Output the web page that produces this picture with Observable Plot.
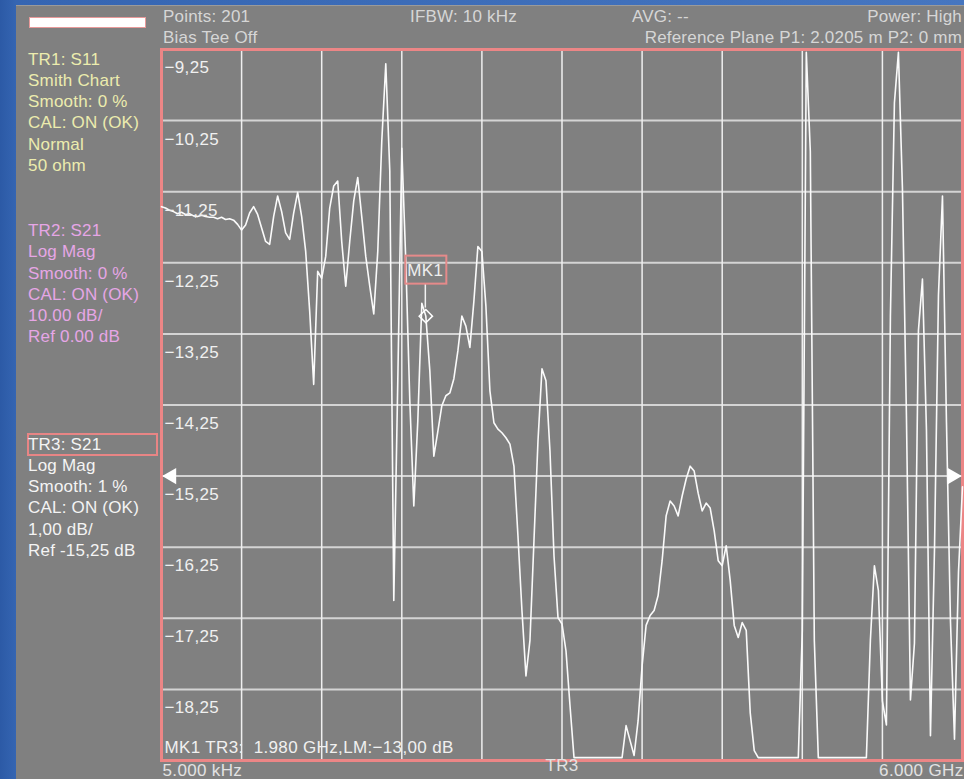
<!DOCTYPE html>
<html lang="en">
<head>
<meta charset="utf-8">
<title>TR3 S21 Log Mag</title>
<script src="https://cdn.jsdelivr.net/npm/d3@7"></script>
<script src="https://cdn.jsdelivr.net/npm/@observablehq/plot@0.6"></script>
<style>
  html, body { margin: 0; padding: 0; background: #3563ad; }
  #screen { position: relative; width: 964px; height: 779px; overflow: hidden;
            background: linear-gradient(90deg, #2c5aa6 0px, #3565b2 16px, #4676c0 100%); }
  #panel { position: absolute; left: 16px; top: 5px; right: 0; bottom: 0; background: #808080;
           border-top: 1px solid #9a9a9a; }
  .txt { position: absolute; font-family: "Liberation Sans", Arial, sans-serif; font-size: 17px;
         line-height: 21.3px; white-space: pre; letter-spacing: 0.2px; }
  #bar { position: absolute; left: 29px; top: 17px; width: 117px; height: 11px; box-sizing: border-box;
         background: #ffffff; border: 1.5px solid #e89a9a; }
  #active { position: absolute; left: 27px; top: 433px; width: 131px; height: 23px; box-sizing: border-box;
            border: 2px solid #e88585; }
  #chart { position: absolute; left: 0; top: 0; }
  #chart text { letter-spacing: 0.35px; }
</style>
</head>
<body>
<div id="screen">
  <div id="panel"></div>
  <div id="bar"></div>
  <div id="active"></div>
  <div id="chart"></div>
</div>
<script>
// Sweep settings
const startGHz = 0.000005;
const stopGHz = 6;
const sweepPoints = 201;

// TR3: S21 log magnitude (dB), one value per sweep point
const s21 = [
  -11.46, -11.48, -11.51, -11.53, -11.56, -11.54, -11.57, -11.56, -11.59, -11.60,
  -11.58, -11.60, -11.61, -11.61, -11.63, -11.61, -11.64, -11.63, -11.65, -11.71,
  -11.79, -11.72, -11.55, -11.46, -11.57, -11.76, -11.95, -11.99, -11.60, -11.31,
  -11.53, -11.83, -11.92, -11.55, -11.26, -11.60, -12.09, -12.93, -13.96, -12.37,
  -12.47, -12.16, -11.48, -11.17, -11.10, -11.95, -12.58, -11.95, -11.38, -11.05,
  -11.60, -12.16, -12.58, -12.97, -12.09, -10.54, -9.45, -10.96, -17.00, -13.91,
  -10.64, -12.23, -14.19, -15.67, -14.47, -12.82, -13.00, -13.77, -14.97, -14.62,
  -14.26, -14.12, -14.08, -13.88, -13.49, -13.00, -13.14, -13.44, -12.79, -12.02,
  -12.09, -12.86, -14.05, -14.50, -14.59, -14.64, -14.71, -14.80, -15.11, -16.09,
  -17.14, -18.06, -17.56, -16.16, -14.76, -13.74, -13.91, -14.90, -16.37, -17.24,
  -17.33, -17.71, -18.48, -19.30, -19.62, -19.85, -19.90, -19.78, -19.95, -20.10,
  -19.88, -19.70, -19.84, -19.92, -19.66, -19.45, -18.76, -18.97, -19.18, -18.69,
  -17.92, -17.35, -17.21, -17.14, -16.93, -16.44, -15.81, -15.60, -15.67, -15.81,
  -15.53, -15.29, -15.11, -15.18, -15.49, -15.74, -15.63, -15.70, -16.02, -16.44,
  -16.51, -16.23, -16.72, -17.35, -17.52, -17.31, -17.42, -18.58, -19.11, -19.55,
  -19.80, -19.95, -20.05, -19.90, -19.75, -19.88, -20.00, -19.82, -19.70, -19.60,
  -17.42, -8.90, -10.68, -17.56, -19.60, -19.85, -20.02, -19.93, -19.78, -19.90,
  -20.05, -19.88, -19.72, -19.86, -19.95, -19.80, -19.58, -17.56, -16.51, -16.86,
  -18.41, -18.75, -13.00, -10.00, -9.20, -11.20, -14.40, -18.40, -17.60, -13.20,
  -12.48, -14.60, -18.90, -16.30, -12.70, -11.31, -14.50, -17.30, -18.95, -16.60,
  -15.40
];

// Vertical scale: 1 dB/div, reference -15.25 dB on the 6th division line
const refLevel = -15.25;
const yTicks = [-9.25, -10.25, -11.25, -12.25, -13.25, -14.25, -15.25, -16.25, -17.25, -18.25, -19.25];
const xGrid = [0.000005, 0.6, 1.2, 1.8, 2.4, 3.0, 3.6, 4.2, 4.8, 5.4, 6.0];

// Marker MK1 on TR3
const marker = { name: "MK1", trace: "TR3", f: 1.98, db: -13.00 };

// Status texts
const headerLeft = [{ text: "Points: 201", top: 5.5 }, { text: "Bias Tee Off", top: 26.5 }];
const headerMid = [{ text: "IFBW: 10 kHz", left: 410 }, { text: "AVG: --", left: 632 }];
const headerRight = [{ text: "Power: High", top: 5.5 }, { text: "Reference Plane P1: 2.0205 m P2: 0 mm", top: 26.5 }];
const tr1Info = ["TR1: S11", "Smith Chart", "Smooth: 0 %", "CAL: ON (OK)", "Normal", "50 ohm"];
const tr2Info = ["TR2: S21", "Log Mag", "Smooth: 0 %", "CAL: ON (OK)", "10.00 dB/", "Ref 0.00 dB"];
const tr3Info = ["TR3: S21", "Log Mag", "Smooth: 1 %", "CAL: ON (OK)", "1,00 dB/", "Ref -15,25 dB"];

const screen = document.getElementById("screen");
function addText(lines, style, color) {
  const d = document.createElement("div");
  d.className = "txt";
  Object.assign(d.style, style, { color });
  d.textContent = lines.join("\n");
  screen.appendChild(d);
}
for (const h of headerLeft) addText([h.text], { left: "163px", top: h.top + "px" }, "#d6d6d6");
for (const h of headerMid) addText([h.text], { left: h.left + "px", top: "5.5px" }, "#d6d6d6");
for (const h of headerRight) addText([h.text], { right: "2px", top: h.top + "px", textAlign: "right" }, "#d6d6d6");
addText(tr1Info, { left: "28px", top: "48.5px" }, "#ececae");
addText(tr2Info, { left: "28px", top: "220px" }, "#e6a6e6");
addText(tr3Info, { left: "28px", top: "433.5px" }, "#f4f4f4");

// Comma decimal, as shown on the instrument
const fmtDb = d => d3.format(".2f")(d).replace(".", ",");
const lo = yTicks[yTicks.length - 1], hi = yTicks[0];
// Out-of-range readings are pinned to the graticule edge
const clampDb = v => Math.max(lo + 0.04, Math.min(hi - 0.04, v));

const trace = s21.map((db, i) => ({
  f: startGHz + i * (stopGHz - startGHz) / (sweepPoints - 1),
  db
}));

const font = '"Liberation Sans", Arial, sans-serif';

function markerFlag(index, scales) {
  const cx = scales.x(marker.f), cy = scales.y(marker.db);
  const g = d3.create("svg:g");
  g.append("line")
    .attr("x1", cx).attr("x2", cx).attr("y1", cy - 8).attr("y2", cy - 32)
    .attr("stroke", "#f2f2f2").attr("stroke-width", 1.5);
  g.append("rect")
    .attr("x", cx - 20).attr("y", cy - 60).attr("width", 41).attr("height", 28)
    .attr("fill", "none").attr("stroke", "#e58a8a").attr("stroke-width", 2);
  g.append("text")
    .attr("x", cx).attr("y", cy - 40).attr("text-anchor", "middle")
    .attr("fill", "#eeeeee").attr("font-family", font).attr("font-size", 17)
    .text(marker.name);
  return g.node();
}

const chart = Plot.plot({
  width: 964,
  height: 779,
  marginLeft: 161,
  marginRight: 2,
  marginTop: 49,
  marginBottom: 19,
  style: { background: "transparent", overflow: "visible", fontFamily: font, fontSize: "17px" },
  x: { domain: [startGHz, stopGHz], axis: null },
  y: { domain: [lo, hi], axis: null },
  marks: [
    Plot.ruleY(yTicks, { stroke: "#d4d4d4", strokeWidth: 2 }),
    Plot.ruleX(xGrid, { stroke: "#efefef", strokeWidth: 1.5 }),
    Plot.frame({ stroke: "#ec8686", strokeWidth: 3 }),
    Plot.line(trace, { x: "f", y: d => clampDb(d.db), stroke: "#fbfbfb", strokeWidth: 1.6 }),
    Plot.text(yTicks.slice(0, -1), {
      x: startGHz, y: d => d, text: fmtDb, textAnchor: "start",
      dx: 3, dy: 18.5, fill: "#f0f0f0", fontSize: 17
    }),
    Plot.dot([refLevel], { x: startGHz, y: d => d, symbol: "triangle", rotate: -90, r: 6, fill: "#ffffff", dx: 10 }),
    Plot.dot([refLevel], { x: stopGHz, y: d => d, symbol: "triangle", rotate: 90, r: 6, fill: "#ffffff", dx: -10 }),
    Plot.dot([marker], { x: "f", y: "db", symbol: "diamond2", r: 6, stroke: "#ffffff", fill: "none", strokeWidth: 1.5 }),
    markerFlag,
    Plot.text([marker], {
      x: startGHz, y: lo,
      text: m => `${m.name} ${m.trace}:\u00a0 ${m.f.toFixed(3)} GHz,LM:${fmtDb(m.db)} dB`,
      textAnchor: "start", dx: 3, dy: -12.5, fill: "#f0f0f0", fontSize: 17
    }),
    Plot.text([startGHz], {
      x: d => d, y: lo, text: d => `${(d * 1e6).toFixed(3)} kHz`,
      textAnchor: "start", dx: 1, dy: 10, fill: "#e2e2e2", fontSize: 17
    }),
    Plot.text([stopGHz], {
      x: d => d, y: lo, text: d => `${d.toFixed(3)} GHz`,
      textAnchor: "end", dx: 1, dy: 10, fill: "#e2e2e2", fontSize: 17
    }),
    Plot.text([marker.trace], {
      frameAnchor: "bottom", text: d => d, dy: 10, fill: "#e2e2e2", fontSize: 17
    })
  ]
});
document.getElementById("chart").appendChild(chart);
</script>
</body>
</html>
